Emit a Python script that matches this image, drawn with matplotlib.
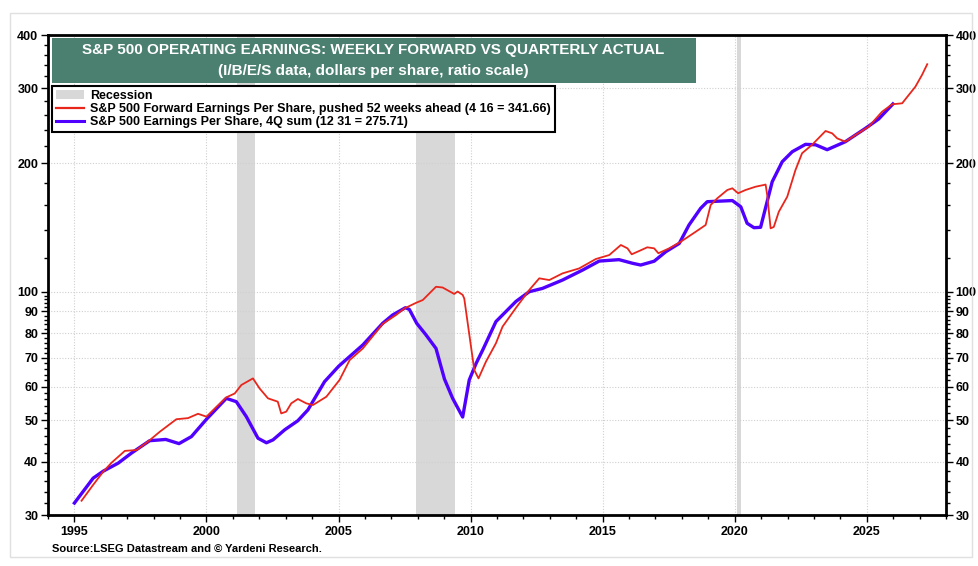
import matplotlib
matplotlib.use("Agg")
import matplotlib.pyplot as plt
import matplotlib.ticker as mtick
from matplotlib.patches import Rectangle, Patch
from matplotlib.lines import Line2D

plt.rcParams['font.family'] = ['Liberation Sans', 'DejaVu Sans']

# S&P 500 EPS, 4Q sum (quarterly)
eps_years = [1995.0, 1995.71, 1996.09, 1996.66, 1997.16, 1997.85, 1998.46, 1998.96,
             1999.43, 2000.0, 2000.75, 2001.13, 2001.51, 2001.95, 2002.27, 2002.52,
             2002.96, 2003.46, 2003.84, 2004.47, 2005.01, 2005.92, 2006.67, 2007.05,
             2007.53, 2007.68, 2007.96, 2008.31, 2008.69, 2009.01, 2009.32, 2009.70,
             2009.95, 2010.21, 2010.46, 2010.96, 2011.21, 2011.72, 2012.22, 2012.72,
             2013.48, 2014.24, 2014.87, 2015.62, 2016.13, 2016.44, 2016.95, 2017.39,
             2017.90, 2018.27, 2018.71, 2018.96, 2019.91, 2020.23, 2020.47, 2020.73,
             2020.98, 2021.42, 2021.80, 2022.18, 2022.68, 2023.06, 2023.50, 2024.19,
             2024.95, 2025.45, 2025.99]
eps_vals = [32.0, 36.6, 38.0, 39.7, 41.9, 44.8, 45.1, 44.1,
            45.8, 50.3, 56.3, 55.3, 51.0, 45.4, 44.3, 45.0,
            47.5, 49.9, 52.9, 61.6, 67.0, 75.1, 84.4, 88.3,
            91.8, 91.0, 84.4, 79.3, 73.7, 62.5, 56.3, 50.9,
            62.2, 68.0, 73.1, 85.2, 88.3, 95.0, 100.1, 101.9,
            106.6, 112.5, 118.1, 119.0, 116.7, 115.6, 118.0, 124.2,
            129.9, 143.5, 157.0, 162.7, 163.7, 158.3, 144.8, 141.4,
            141.7, 181.2, 201.9, 213.1, 221.7, 221.2, 215.4, 224.9,
            241.7, 254.2, 275.71]

# forward EPS, pushed 52 weeks ahead (weekly)
fwd_years = [1995.27, 1995.71, 1996.09, 1996.41, 1996.91, 1997.35, 1997.79, 1998.23,
             1998.86, 1999.30, 1999.68, 2000.0, 2000.38, 2000.75, 2001.07, 2001.32,
             2001.76, 2002.01, 2002.33, 2002.70, 2002.83, 2003.02, 2003.21, 2003.46,
             2003.78, 2004.03, 2004.54, 2005.04, 2005.42, 2005.92, 2006.67, 2007.18,
             2007.50, 2007.94, 2008.19, 2008.69, 2008.94, 2009.38, 2009.51, 2009.70,
             2009.76, 2010.14, 2010.30, 2010.58, 2010.96, 2011.21, 2011.72, 2012.22,
             2012.60, 2012.98, 2013.48, 2014.11, 2014.74, 2015.25, 2015.69, 2015.94,
             2016.10, 2016.32, 2016.69, 2016.95, 2017.11, 2017.52, 2017.90, 2018.15,
             2018.52, 2018.90, 2019.09, 2019.34, 2019.72, 2019.91, 2020.13, 2020.41,
             2020.79, 2021.11, 2021.17, 2021.23, 2021.36, 2021.48, 2021.67, 2021.99,
             2022.30, 2022.55, 2022.93, 2023.44, 2023.69, 2023.88, 2024.19, 2024.57,
             2025.07, 2025.58, 2025.96, 2026.34, 2026.84, 2027.09, 2027.29]
fwd_vals = [32.4, 35.3, 37.9, 39.8, 42.4, 42.6, 44.6, 47.0,
            50.3, 50.6, 51.8, 51.0, 53.8, 56.6, 57.8, 60.5,
            62.7, 59.4, 56.3, 55.3, 51.9, 52.4, 54.8, 56.1,
            54.8, 54.3, 56.8, 62.2, 69.2, 73.7, 84.1, 88.3,
            91.5, 94.3, 95.7, 102.8, 102.4, 98.9, 100.2, 98.4,
            96.5, 65.6, 62.7, 68.6, 75.8, 82.9, 91.8, 101.0,
            107.6, 106.6, 110.5, 113.5, 119.4, 122.0, 128.8, 126.5,
            122.5, 124.2, 127.2, 126.5, 123.2, 126.5, 130.4, 133.5,
            138.3, 143.5, 159.8, 165.7, 173.3, 174.9, 170.3, 173.3,
            176.4, 178.1, 178.5, 168.7, 140.9, 142.0, 154.1, 167.2,
            193.0, 211.3, 221.2, 238.3, 235.3, 229.0, 224.9, 233.2,
            243.8, 264.4, 275.2, 276.7, 302.6, 322.3, 341.66]

recessions = [(2001.17, 2001.83), (2007.92, 2009.42), (2020.08, 2020.25)]

y_major = [30, 40, 50, 60, 70, 80, 90, 100, 200, 300, 400]
y_minor = list(range(32, 100, 2)) + list(range(120, 200, 20)) + list(range(220, 300, 20)) + list(range(320, 400, 20))

red = '#e8261c'
blue = '#5000ff'
green = '#4b7f70'
rec_grey = '#d8d8d8'

fig = plt.figure(figsize=(9.79, 5.66), dpi=100)
W, H = 979, 566
ax = fig.add_axes([48 / W, (H - 515) / H, (946 - 48) / W, (515 - 35) / H])

for a, b in recessions:
    ax.axvspan(a, b, color=rec_grey, lw=0, zorder=1)

ax.plot(eps_years, eps_vals, color=blue, lw=2.4, zorder=3, solid_joinstyle='round')
ax.plot(fwd_years, fwd_vals, color=red, lw=1.3, zorder=4)

ax.set_yscale('log')
ax.set_ylim(30, 400)
ax.set_xlim(1994.0, 2028.0)

ax.yaxis.set_major_locator(mtick.FixedLocator(y_major))
ax.yaxis.set_minor_locator(mtick.FixedLocator(y_minor))
ax.yaxis.set_major_formatter(mtick.FixedFormatter([str(v) for v in y_major]))
ax.yaxis.set_minor_formatter(mtick.NullFormatter())
ax.xaxis.set_major_locator(mtick.MultipleLocator(5))
ax.xaxis.set_minor_locator(mtick.MultipleLocator(1))
ax.xaxis.set_major_formatter(mtick.FormatStrFormatter('%d'))

ax.tick_params(axis='y', which='both', left=True, right=True, labelleft=True, labelright=True,
               direction='out', labelsize=9, width=1, color='black')
ax.tick_params(axis='y', which='major', length=5, pad=2)
ax.tick_params(axis='y', which='minor', length=3)
ax.tick_params(axis='x', which='major', length=5, width=1, labelsize=9, pad=3)
ax.tick_params(axis='x', which='minor', length=3, width=1)
for lab in ax.get_xticklabels() + ax.get_yticklabels():
    lab.set_fontweight('bold')

ax.grid(True, which='major', axis='both', color='#d0d0d0', ls=(0, (1, 1.5)), lw=0.8, zorder=0)
for s in ax.spines.values():
    s.set_linewidth(2)
    s.set_color('black')

# title box
fig.patches.append(Rectangle((52 / W, 1 - 83 / H), (696 - 52) / W, (83 - 38) / H,
                             transform=fig.transFigure, facecolor=green, edgecolor='none', zorder=5))
fig.text(373 / W, 1 - 50 / H, 'S&P 500 OPERATING EARNINGS: WEEKLY FORWARD VS QUARTERLY ACTUAL',
         color='white', fontsize=11, fontweight='bold', ha='center', va='center', zorder=6)
fig.text(373 / W, 1 - 71 / H, '(I/B/E/S data, dollars per share, ratio scale)',
         color='white', fontsize=11, fontweight='bold', ha='center', va='center', zorder=6)

handles = [Patch(facecolor=rec_grey, edgecolor='none', label='Recession'),
           Line2D([], [], color=red, lw=1.6,
                  label='S&P 500 Forward Earnings Per Share, pushed 52 weeks ahead (4 16 = 341.66)'),
           Line2D([], [], color=blue, lw=2.2, label='S&P 500 Earnings Per Share, 4Q sum (12 31 = 275.71)')]
leg = fig.legend(handles=handles, loc='upper left', bbox_to_anchor=(52 / W, 1 - 86 / H),
                 frameon=True, fancybox=False, edgecolor='black', framealpha=1,
                 prop={'weight': 'bold', 'size': 9}, handlelength=2.3, handleheight=0.75,
                 handletextpad=0.45, labelspacing=0.1, borderpad=0.3, borderaxespad=0)
leg.get_frame().set_linewidth(1.5)
leg.set_zorder(7)

fig.text(52 / W, 1 - 549 / H, 'Source:LSEG Datastream and \u00a9 Yardeni Research.',
         fontsize=8, fontweight='bold', ha='left', va='center')

fig.patches.append(Rectangle((10 / W, 1 - 557 / H), (972 - 10) / W, (557 - 13) / H,
                             transform=fig.transFigure, facecolor='none', edgecolor='#e0e0e0', lw=1))

fig.savefig('out.png', dpi=100)
